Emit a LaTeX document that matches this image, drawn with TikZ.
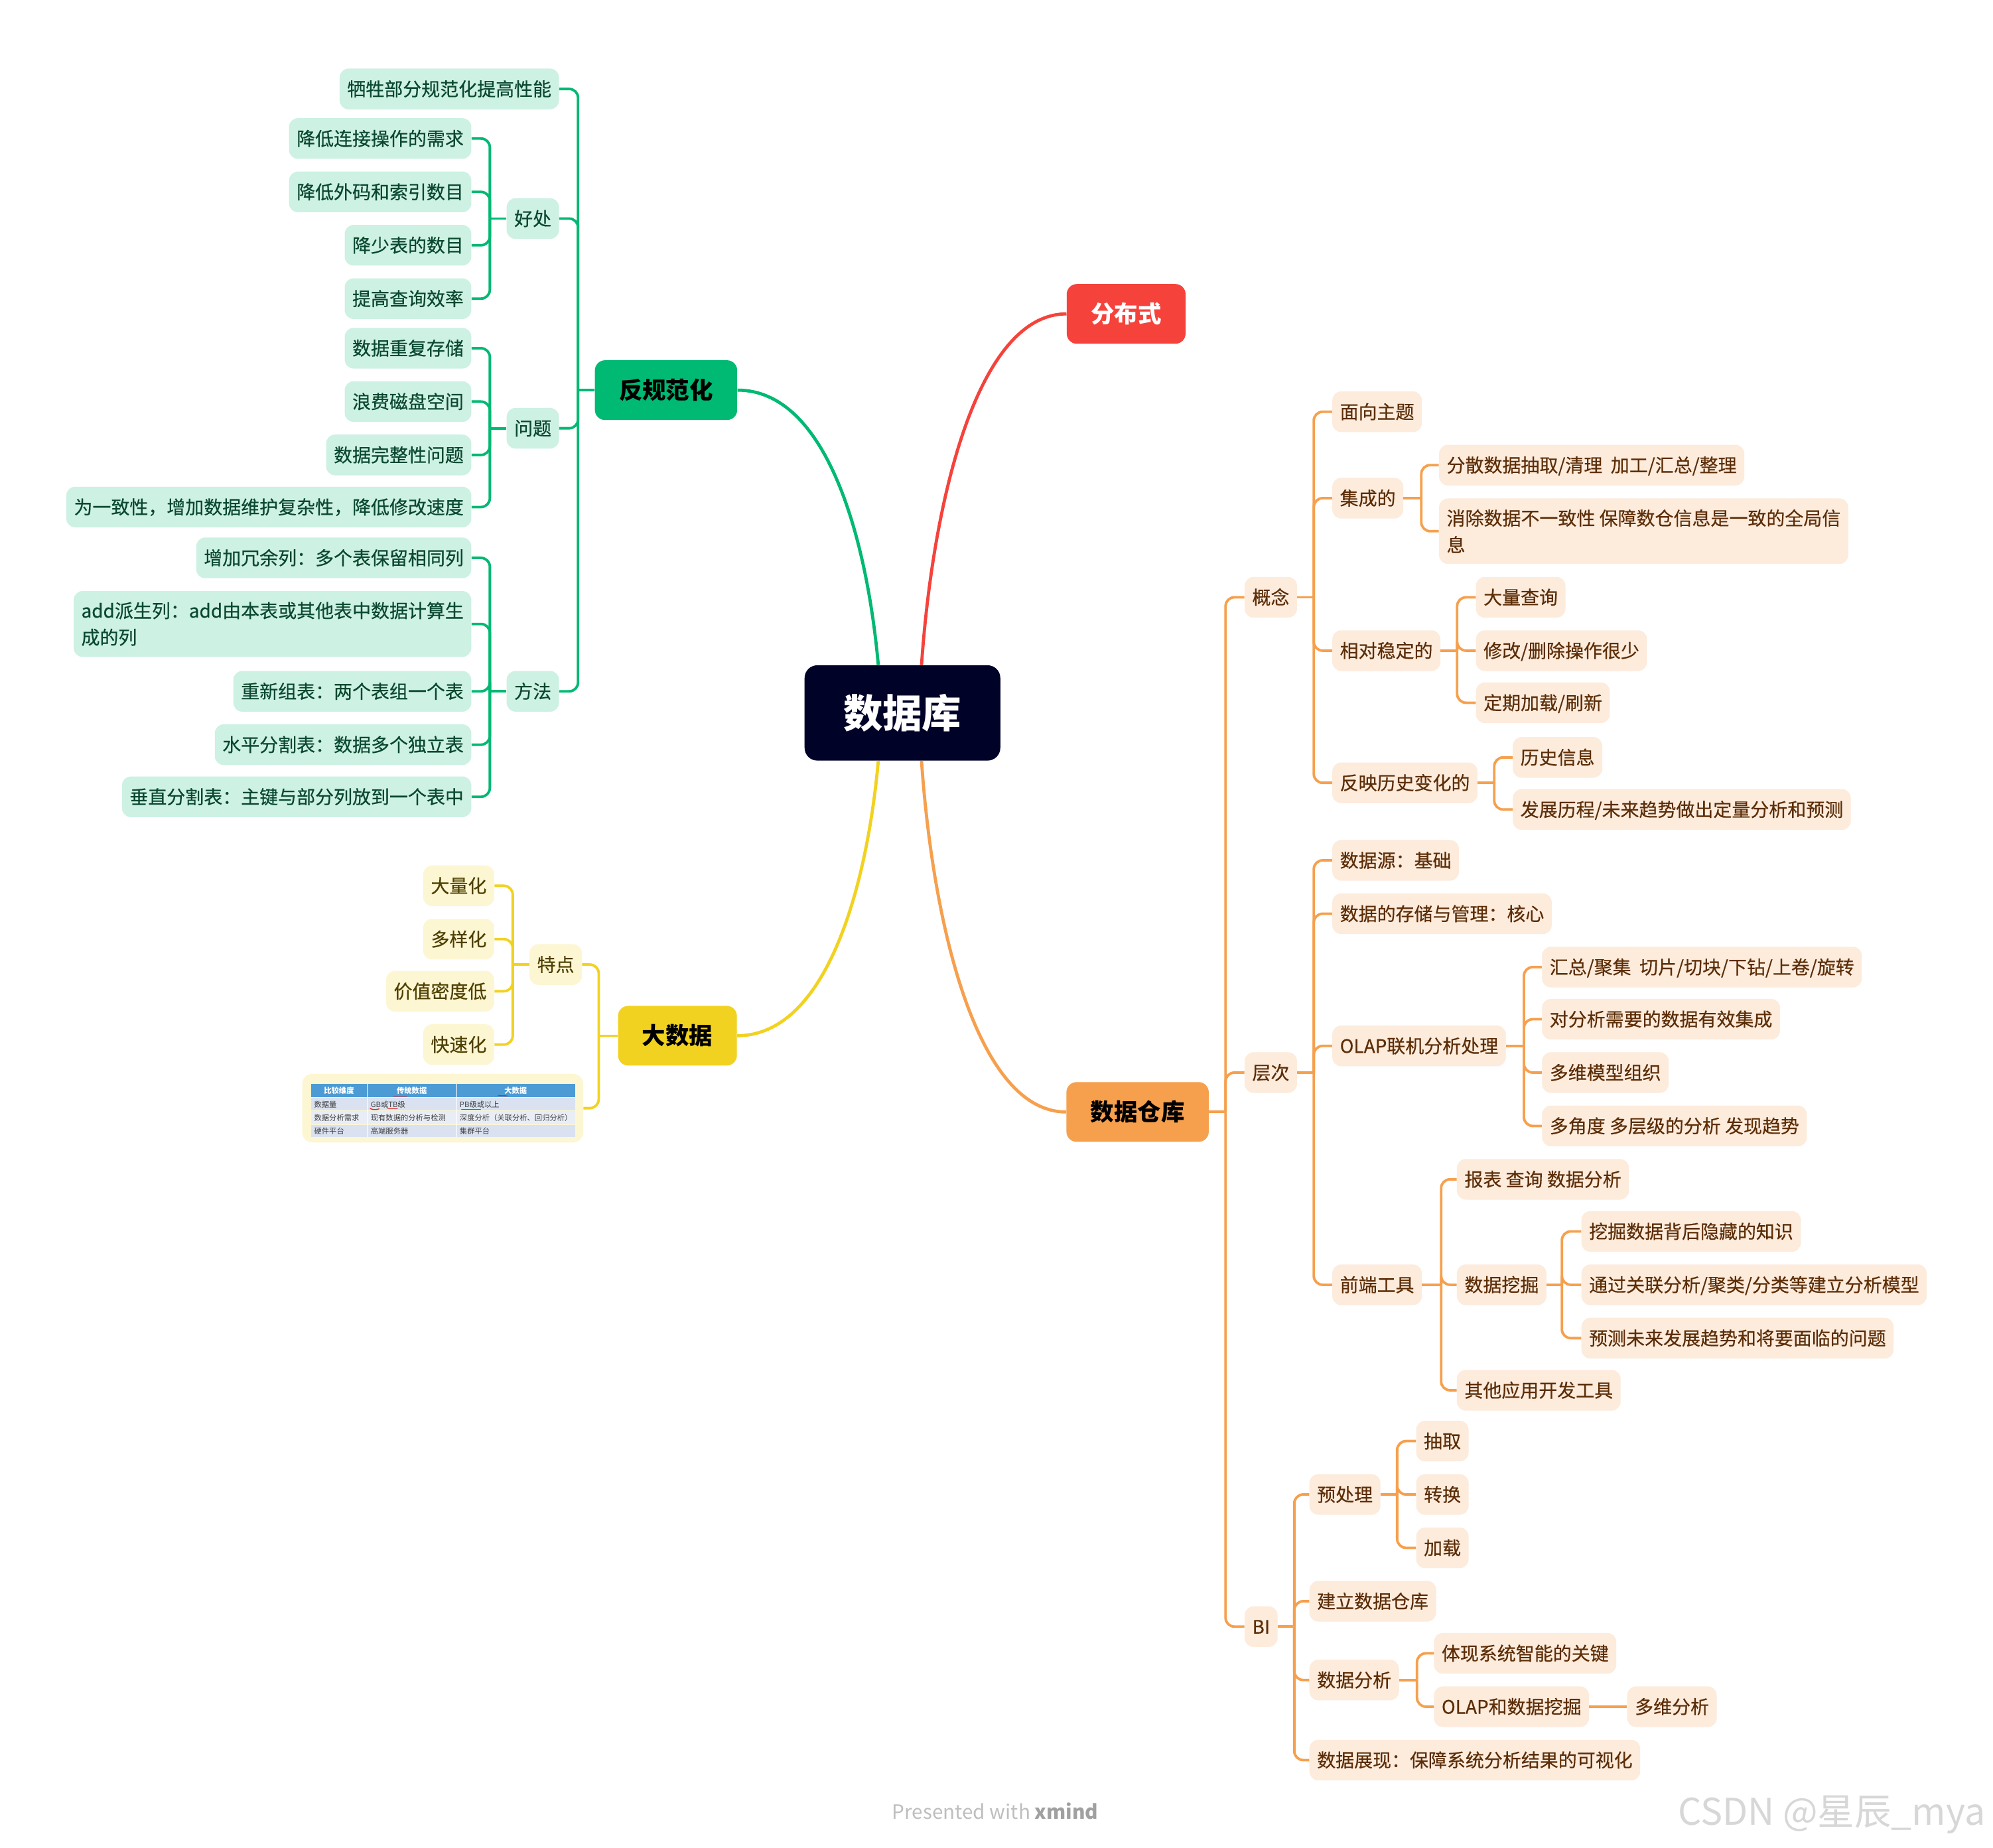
\documentclass[tikz,border=0pt]{standalone}
\usepackage{fontspec}
\setmainfont{Noto Sans CJK SC}
\newfontfamily\lfam{Noto Sans CJK SC}[FakeBold=0.4]
\usetikzlibrary{calc}
\definecolor{gmain}{RGB}{0,185,115}
\definecolor{gfill}{RGB}{205,241,227}
\definecolor{gtext}{RGB}{10,72,48}
\definecolor{rmain}{RGB}{245,67,60}
\definecolor{ymain}{RGB}{242,210,32}
\definecolor{yfill}{RGB}{253,246,210}
\definecolor{ytext}{RGB}{78,64,0}
\definecolor{omain}{RGB}{246,160,78}
\definecolor{ofill}{RGB}{253,235,220}
\definecolor{otext}{RGB}{92,46,8}
\definecolor{rootc}{RGB}{0,2,40}
\definecolor{thead}{RGB}{76,155,213}
\definecolor{trowa}{RGB}{218,226,241}
\definecolor{trowb}{RGB}{233,237,246}
\definecolor{ttext}{RGB}{64,64,64}
\definecolor{tred}{RGB}{220,40,50}
\newcommand\LF{\lfam\fontsize{14.6}{21}\selectfont}
\newcommand\MF{\fontsize{18.5}{22}\selectfont\bfseries}
\newcommand\TF{\fontsize{5.9}{7}\selectfont}
\newcommand\LBr[4]{%
  \draw[#1] (#2.west) -- ++(-#3,0) coordinate (#2-j);
  \foreach \ch in {#4} {\draw[#1] (#2-j) |- (\ch.east);}
}
\newcommand\RBr[4]{%
  \draw[#1] (#2.east) -- ++(#3,0) coordinate (#2-j);
  \foreach \ch in {#4} {\draw[#1] (#2-j) |- (\ch.west);}
}
\tikzset{
  leaf/.style={rounded corners=7pt, inner xsep=6pt, inner ysep=0pt, minimum height=32pt,
    text height=12.8pt, text depth=1.8pt, font=\LF},
  gleaf/.style={leaf, fill=gfill, text=gtext, anchor=east},
  yleaf/.style={leaf, fill=yfill, text=ytext, anchor=east},
  oleaf/.style={leaf, fill=ofill, text=otext, anchor=west},
  twoline/.style={align=left, inner ysep=8.6pt, text height={}, text depth={}},
  mainnode/.style={rounded corners=8pt, inner xsep=19pt, inner ysep=0pt, minimum height=47pt,
    text height=16.2pt, text depth=2.3pt, font=\MF},
  gconn/.style={draw=gmain, line width=2pt, rounded corners=7pt},
  yconn/.style={draw=ymain, line width=2pt, rounded corners=7pt},
  oconn/.style={draw=omain, line width=2pt, rounded corners=7pt},
  curve/.style={line width=2.5pt},
  tcell/.style={font=\TF, text=ttext, inner sep=0pt, anchor=west},
  thcell/.style={font=\TF\bfseries, text=white, inner sep=0pt},
  redmark/.style={draw=tred, line width=0.7pt, line cap=round}
}
\begin{document}
\begin{tikzpicture}[x=1pt,y=-1pt]
\useasboundingbox (0,0) rectangle (1568,1454);
\fill[white] (0,0) rectangle (1568,1454);

% ---------- root and main branches ----------
\node[fill=rootc, text=white, rounded corners=10pt, minimum width=154pt, minimum height=75pt,
  inner sep=0pt, font=\fontsize{31}{34}\selectfont\bfseries] (root) at (710,561) {数据库};
\node[mainnode, fill=gmain, text=black] (fgfh) at (524,307) {反规范化};
\node[mainnode, fill=rmain, text=white] (fbs) at (886,247) {分布式};
\node[mainnode, fill=ymain, text=black] (dsj) at (533,815) {大数据};
\node[mainnode, fill=omain, text=black] (sjck) at (895,875) {数据仓库};

\draw[curve, draw=gmain] ($(root.north)+(-19,0)$) .. controls +(-9,-100) and +(70,0) .. (fgfh.east);
\draw[curve, draw=rmain] ($(root.north)+(15,0)$) .. controls +(9,-130) and +(-70,0) .. (fbs.west);
\draw[curve, draw=ymain] ($(root.south)+(-19,0)$) .. controls +(-9,100) and +(70,0) .. (dsj.east);
\draw[curve, draw=omain] ($(root.south)+(15,0)$) .. controls +(9,130) and +(-70,0) .. (sjck.west);

% ---------- green tree ----------
\node[gleaf] (g1) at (440,70) {牺牲部分规范化提高性能};
\node[gleaf] (hc) at (440,172) {好处};
\node[gleaf] (wt) at (440,337) {问题};
\node[gleaf] (ff) at (440,544) {方法};
\node[gleaf] (hc1) at (371,109) {降低连接操作的需求};
\node[gleaf] (hc2) at (371,151) {降低外码和索引数目};
\node[gleaf] (hc3) at (371,193) {降少表的数目};
\node[gleaf] (hc4) at (371,235) {提高查询效率};
\node[gleaf] (wt1) at (371,274) {数据重复存储};
\node[gleaf] (wt2) at (371,316) {浪费磁盘空间};
\node[gleaf] (wt3) at (371,358) {数据完整性问题};
\node[gleaf] (wt4) at (371,399) {为一致性，增加数据维护复杂性，降低修改速度};
\node[gleaf] (ff1) at (371,439) {增加冗余列：多个表保留相同列};
\node[gleaf, twoline] (ff2) at (371,491) {add派生列：add由本表或其他表中数据计算生\\成的列};
\node[gleaf] (ff3) at (371,544) {重新组表：两个表组一个表};
\node[gleaf] (ff4) at (371,586) {水平分割表：数据多个独立表};
\node[gleaf] (ff5) at (371,627) {垂直分割表：主键与部分列放到一个表中};

\LBr{gconn}{fgfh}{13}{g1,hc,wt,ff}
\LBr{gconn}{hc}{13}{hc1,hc2,hc3,hc4}
\LBr{gconn}{wt}{13}{wt1,wt2,wt3,wt4}
\LBr{gconn}{ff}{13}{ff1,ff2,ff3,ff4,ff5}

% ---------- yellow tree ----------
\node[yleaf] (td) at (458,759) {特点};
\node[yleaf] (td1) at (389,697) {大量化};
\node[yleaf] (td2) at (389,739) {多样化};
\node[yleaf] (td3) at (389,780) {价值密度低};
\node[yleaf] (td4) at (389,822) {快速化};
\node[fill=yfill, rounded corners=8pt, minimum width=221pt, minimum height=54pt, inner sep=0pt,
  anchor=east] (tab) at (459,872) {};

\LBr{yconn}{dsj}{15}{td,tab}
\LBr{yconn}{td}{13}{td1,td2,td3,td4}

% table picture inside the node
\fill[thead] (244.6,852.8) rectangle (452.3,863.3);
\fill[trowa] (244.6,863.8) rectangle (452.3,874.0);
\fill[trowb] (244.6,874.5) rectangle (452.3,884.7);
\fill[trowa] (244.6,885.2) rectangle (452.3,894.6);
\draw[white, line width=0.6pt] (288.8,852.8) -- (288.8,894.6) (359.2,852.8) -- (359.2,894.6);
\node[thcell] (th1) at (266.7,858) {比较维度};
\node[thcell] (th2) at (324.0,858) {传统数据};
\node[thcell] (th3) at (405.7,858) {大数据};
\node[tcell] (t11) at (247,869) {数据量};
\node[tcell] (t12) at (291.5,869) {GB或TB级};
\node[tcell] (t13) at (361.5,869) {PB级或以上};
\node[tcell] (t21) at (247,879.6) {数据分析需求};
\node[tcell] (t22) at (291.5,879.6) {现有数据的分析与检测};
\node[tcell] (t23) at (361.5,879.6) {深度分析（关联分析、回归分析）};
\node[tcell] (t31) at (247,890) {硬件平台};
\node[tcell] (t32) at (291.5,890) {高端服务器};
\node[tcell] (t33) at (361.5,890) {集群平台};
\draw[redmark] (309.5,862.4) -- (319.8,862.4);
\draw[redmark] (291.2,872.2) .. controls (293,873.4) and (296,873.4) .. (298.2,872.6);
\draw[redmark] (305,872.6) -- (312.6,872.6);
\draw[redmark] (363.2,873) -- (378,873);
\draw[redmark] (392,862) -- (399,862.3);

% ---------- orange tree ----------
\node[oleaf] (gn) at (979,470) {概念};
\node[oleaf] (cc) at (979,844) {层次};
\node[oleaf] (bi) at (979,1280) {BI};
\RBr{oconn}{sjck}{13}{gn,cc,bi}

\node[oleaf] (gn1) at (1048,324) {面向主题};
\node[oleaf] (gn2) at (1048,392) {集成的};
\node[oleaf] (gn3) at (1048,512) {相对稳定的};
\node[oleaf] (gn4) at (1048,616) {反映历史变化的};
\RBr{oconn}{gn}{13}{gn1,gn2,gn3,gn4}

\node[oleaf] (jc1) at (1132,366) {分散数据抽取/清理\ \ 加工/汇总/整理};
\node[oleaf, twoline] (jc2) at (1132,418) {消除数据不一致性 保障数仓信息是一致的全局信\\息};
\RBr{oconn}{gn2}{14}{jc1,jc2}

\node[oleaf] (wd1) at (1161,470) {大量查询};
\node[oleaf] (wd2) at (1161,512) {修改/删除操作很少};
\node[oleaf] (wd3) at (1161,553) {定期加载/刷新};
\RBr{oconn}{gn3}{13}{wd1,wd2,wd3}

\node[oleaf] (ls1) at (1190,596) {历史信息};
\node[oleaf] (ls2) at (1190,637) {发展历程/未来趋势做出定量分析和预测};
\RBr{oconn}{gn4}{13}{ls1,ls2}

\node[oleaf] (cc1) at (1048,677) {数据源：基础};
\node[oleaf] (cc2) at (1048,719) {数据的存储与管理：核心};
\node[oleaf] (cc3) at (1048,823) {OLAP联机分析处理};
\node[oleaf] (cc4) at (1048,1011) {前端工具};
\RBr{oconn}{cc}{13}{cc1,cc2,cc3,cc4}

\node[oleaf] (ol1) at (1213,761) {汇总/聚集\ \ 切片/切块/下钻/上卷/旋转};
\node[oleaf] (ol2) at (1213,802) {对分析需要的数据有效集成};
\node[oleaf] (ol3) at (1213,844) {多维模型组织};
\node[oleaf] (ol4) at (1213,886) {多角度 多层级的分析 发现趋势};
\RBr{oconn}{cc3}{14}{ol1,ol2,ol3,ol4}

\node[oleaf] (qd1) at (1146,928) {报表 查询 数据分析};
\node[oleaf] (qd2) at (1146,1011) {数据挖掘};
\node[oleaf] (qd3) at (1146,1094) {其他应用开发工具};
\RBr{oconn}{cc4}{15}{qd1,qd2,qd3}

\node[oleaf] (wj1) at (1244,969) {挖掘数据背后隐藏的知识};
\node[oleaf] (wj2) at (1244,1011) {通过关联分析/聚类/分类等建立分析模型};
\node[oleaf] (wj3) at (1244,1053) {预测未来发展趋势和将要面临的问题};
\RBr{oconn}{qd2}{12}{wj1,wj2,wj3}

\node[oleaf] (bi1) at (1030,1176) {预处理};
\node[oleaf] (bi2) at (1030,1260) {建立数据仓库};
\node[oleaf] (bi3) at (1030,1322) {数据分析};
\node[oleaf] (bi4) at (1030,1385) {数据展现：保障系统分析结果的可视化};
\RBr{oconn}{bi}{13}{bi1,bi2,bi3,bi4}

\node[oleaf] (cl1) at (1114,1134) {抽取};
\node[oleaf] (cl2) at (1114,1176) {转换};
\node[oleaf] (cl3) at (1114,1218) {加载};
\RBr{oconn}{bi1}{13}{cl1,cl2,cl3}

\node[oleaf] (fx1) at (1128,1301) {体现系统智能的关键};
\node[oleaf] (fx2) at (1128,1343) {OLAP和数据挖掘};
\RBr{oconn}{bi3}{14}{fx1,fx2}

\node[oleaf] (dw) at (1280,1343) {多维分析};
\draw[oconn] (fx2.east) -- (dw.west);

% ---------- footer ----------
\node[font=\fontsize{15.5}{18}\selectfont, text={rgb,255:red,190;green,190;blue,190}] (foot) at (783,1425)
  {Presented with \textcolor[RGB]{160,160,160}{\bfseries xmind}};
\node[font=\fontsize{29}{32}\selectfont, text={rgb,255:red,215;green,215;blue,215}, anchor=west, inner sep=0pt]
  (wm) at (1320,1428) {CSDN @星辰\_mya};
\end{tikzpicture}
\end{document}
